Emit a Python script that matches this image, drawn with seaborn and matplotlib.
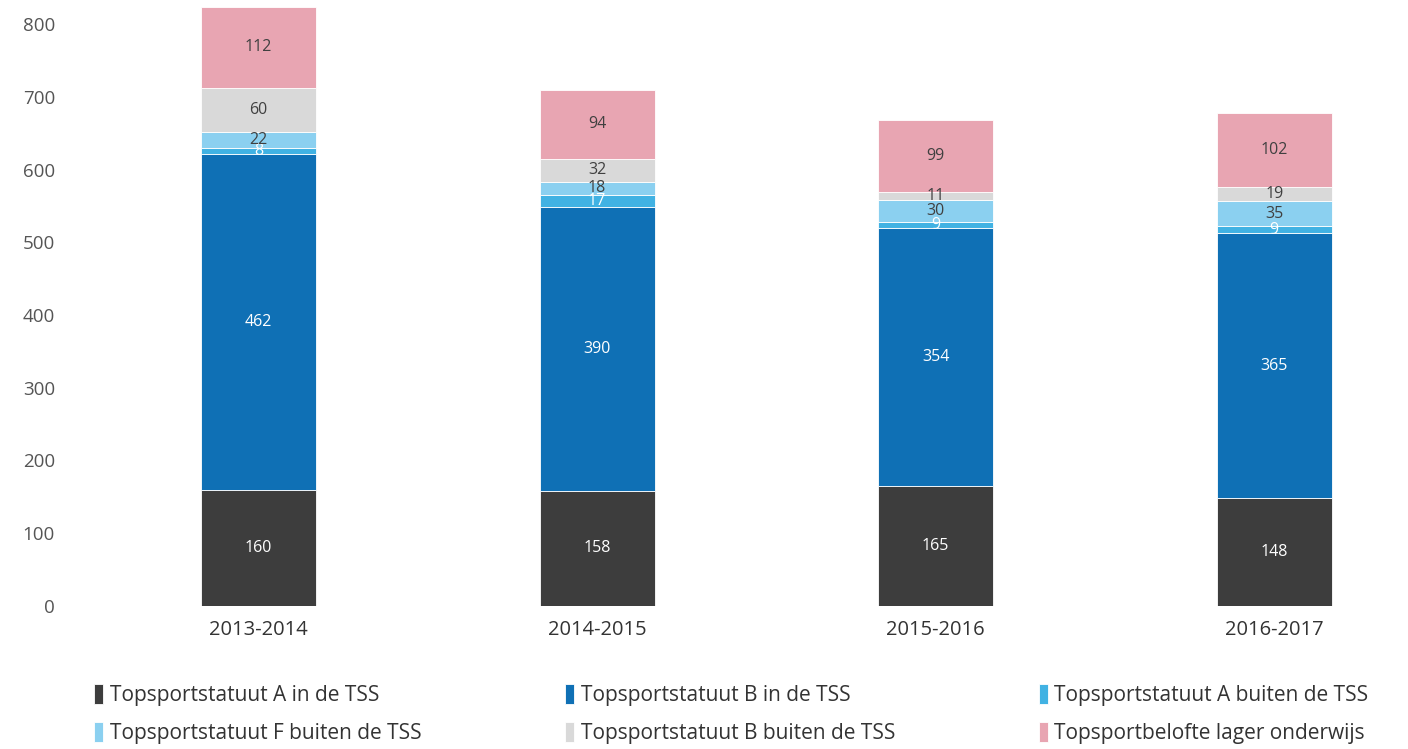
import matplotlib
matplotlib.use("Agg")
import matplotlib.pyplot as plt
import seaborn as sns
import pandas as pd
import numpy as np

# data (bottom to top of each stack)
seasons = ["2013-2014", "2014-2015", "2015-2016", "2016-2017"]
series_names = [
    "Topsportstatuut A in de TSS",
    "Topsportstatuut B in de TSS",
    "Topsportstatuut A buiten de TSS",
    "Topsportstatuut F buiten de TSS",
    "Topsportstatuut B buiten de TSS",
    "Topsportbelofte lager onderwijs",
]
a_in_tss = [160, 158, 165, 148]
b_in_tss = [462, 390, 354, 365]
a_buiten_tss = [8, 17, 9, 9]
f_buiten_tss = [22, 18, 30, 35]
b_buiten_tss = [60, 32, 11, 19]
belofte_lo = [112, 94, 99, 102]

colors = ["#3d3d3d", "#0f70b5", "#41b2e3", "#8bd0f0", "#d9d9d9", "#e8a5b2"]
label_colors = ["white", "white", "white", "#404040", "#404040", "#404040"]

values = [a_in_tss, b_in_tss, a_buiten_tss, f_buiten_tss, b_buiten_tss, belofte_lo]
df = pd.DataFrame({name: v for name, v in zip(series_names, values)}, index=seasons)

sns.set_theme(style="white")
plt.rcParams["font.family"] = ["Open Sans", "DejaVu Sans"]

fig = plt.figure(figsize=(14.08, 7.49), dpi=100)
ax = fig.add_axes([0.043, 0.191, 0.951, 0.806])

x = np.arange(len(seasons))
bottom = np.zeros(len(seasons))
for name, col, lcol in zip(series_names, colors, label_colors):
    vals = df[name].to_numpy()
    ax.bar(x, vals, width=0.34, bottom=bottom, color=col, label=name,
           edgecolor="white", linewidth=0.6)
    for xi, b, v in zip(x, bottom, vals):
        ax.text(xi, b + v / 2, str(v), ha="center", va="center",
                color=lcol, fontsize=11.5)
    bottom += vals

ax.set_xlim(-0.585, 3.37)
ax.set_ylim(0, 830)
ax.set_yticks(range(0, 801, 100))
ax.set_xticks(x)
ax.set_xticklabels(seasons, fontsize=14.5, color="#333333")
ax.tick_params(axis="y", labelsize=13.5, labelcolor="#555555", length=0, pad=4)
ax.tick_params(axis="x", length=0, pad=10)
sns.despine(ax=ax, left=True, bottom=True)
ax.grid(False)

# legend filled row by row, like the original
handles, labels = ax.get_legend_handles_labels()
order = [0, 3, 1, 4, 2, 5]
ax.legend([handles[i] for i in order], [labels[i] for i in order],
          loc="upper left", bbox_to_anchor=(0.011, -0.098), ncol=3, frameon=False,
          fontsize=15, handlelength=0.45, handleheight=1.1, handletextpad=0.3,
          columnspacing=6.9, labelspacing=0.75, labelcolor="#333333")

fig.savefig("out.png", dpi=100)
